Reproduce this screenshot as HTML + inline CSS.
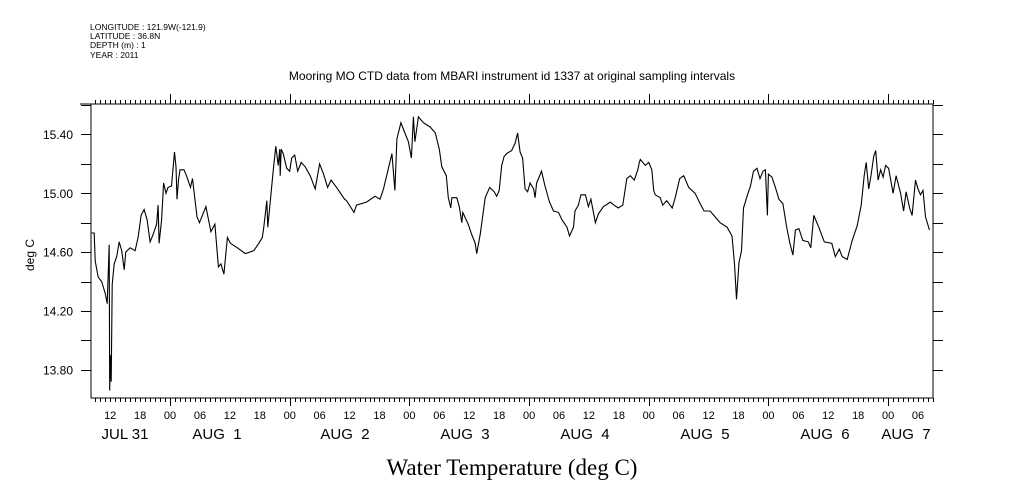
<!DOCTYPE html>
<html><head><meta charset="utf-8">
<style>
html,body{margin:0;padding:0;background:#fff;}
svg{display:block;}
text{font-family:"Liberation Sans",sans-serif;fill:#000;}
</style></head>
<body>
<svg id="chart" width="1009" height="504" viewBox="0 0 1009 504" xmlns="http://www.w3.org/2000/svg">
<rect width="1009" height="504" fill="#fff"/>
<g>
<text x="90" y="30" style="font-size:8.5px">LONGITUDE : 121.9W(-121.9)</text>
<text x="90" y="39" style="font-size:8.5px">LATITUDE : 36.8N</text>
<text x="90" y="48" style="font-size:8.5px">DEPTH (m) : 1</text>
<text x="90" y="58" style="font-size:8.5px">YEAR : 2011</text>
</g>
<text x="512" y="80" text-anchor="middle" style="font-size:12px">Mooring MO CTD data from MBARI instrument id 1337 at original sampling intervals</text>
<text x="512" y="475" text-anchor="middle" style="font-family:'Liberation Serif',serif;font-size:23px">Water Temperature (deg C)</text>
<text x="0" y="0" text-anchor="middle" transform="translate(34,255) rotate(-90)" style="font-size:12px">deg C</text>
<g id="axes"></g>
<g id="series"></g>
</svg>
<script>
// hours relative to AUG 1 00:00
const times = [-15.7,-15.2,-15,-14.4,-13.7,-13,-12.6,-12.2,-12.1,-11.95,-11.8,-11.6,-11.2,-10.7,-10.2,-9.7,-9.2,-8.9,-8,-7,-6.4,-5.8,-5.2,-4.6,-4,-3.4,-2.7,-2.4,-2.2,-1.7,-1.3,-0.8,-0.4,0.3,0.9,1.2,1.4,1.7,2,2.8,3.3,4.1,4.5,5.4,5.9,7.2,8.2,9,9.7,10.2,10.8,11.5,12.1,13.5,15.1,16.8,17.8,18.5,18.8,19.4,19.6,20.7,21.2,21.7,22,22.1,22.3,22.7,23.4,24,24.4,25,25.6,26.3,27.1,28.1,29.1,30,30.8,31.6,32.3,33.6,35,35.4,36.9,37.4,39.4,41.1,42.1,42.8,43.5,44.5,45.1,45.5,46.3,47.1,47.8,48.4,48.8,49.1,49.8,50.8,52.2,53.2,54,54.5,55.4,55.8,56.3,56.5,57.5,58,58.5,58.7,59.8,60.5,61.2,61.5,62.2,63.2,64.1,65,65.5,66,66.5,67,67.5,68.5,69.2,69.7,70.2,70.7,71.2,71.7,72.2,72.9,73.2,73.5,74,74.5,75.2,76.1,76.9,77.9,78.6,79.6,80.1,80.9,81.2,81.9,82.4,83.3,83.9,84.4,85.3,85.9,86.9,88.3,89,89.9,90.8,91.6,92.3,93.1,93.8,94.1,94.3,95.3,96,96.6,97,97.3,98.3,98.8,99.6,100.7,101.3,102.2,103,104,105.3,106.3,107.1,108.3,109.3,110.3,111.7,112.7,113.2,113.6,114.1,114.6,115,115.8,116.4,117,117.7,118.3,118.9,119.4,119.8,120,120.7,121.4,122.1,122.9,123.6,124.3,124.9,125.4,126.1,126.9,128,128.5,129.1,130.1,131.2,132.7,133.4,134.2,134.8,135.8,136.8,137.8,138.6,139.2,139.6,140.1,140.6,141.1,141.5,142,142.5,143,143.5,144.1,145,145.6,146.5,147.1,147.6,148.3,148.8,149.5,150,150.5,151,151.5,152.3];
const temps = [14.73,14.73,14.54,14.43,14.40,14.32,14.25,14.65,13.66,13.90,13.72,14.38,14.52,14.57,14.67,14.61,14.48,14.60,14.63,14.61,14.70,14.85,14.89,14.82,14.67,14.72,14.79,14.92,14.66,14.82,15.07,15.00,15.04,15.05,15.28,15.18,14.96,15.09,15.16,15.16,15.12,15.04,15.10,14.84,14.80,14.91,14.74,14.79,14.50,14.52,14.45,14.70,14.66,14.63,14.59,14.61,14.66,14.70,14.77,14.95,14.77,15.16,15.32,15.19,15.30,15.12,15.30,15.27,15.17,15.15,15.24,15.26,15.15,15.21,15.18,15.12,15.03,15.20,15.13,15.04,15.09,15.03,14.96,14.95,14.87,14.92,14.94,14.98,14.96,15.03,15.13,15.27,15.02,15.37,15.48,15.41,15.35,15.24,15.52,15.35,15.52,15.48,15.45,15.41,15.30,15.18,15.12,14.97,14.90,14.97,14.97,14.91,14.80,14.87,14.79,14.72,14.66,14.59,14.72,14.97,15.04,15.01,14.98,15.02,15.19,15.25,15.27,15.29,15.34,15.41,15.28,15.24,15.03,15.01,15.07,15.03,14.97,15.07,15.11,15.15,15.05,14.94,14.88,14.87,14.82,14.77,14.71,14.77,14.88,14.92,14.99,14.99,14.91,14.96,14.80,14.86,14.91,14.94,14.92,14.90,14.92,15.10,15.12,15.09,15.16,15.21,15.23,15.19,15.21,15.16,15.02,14.99,14.97,14.92,14.95,14.90,14.97,15.10,15.12,15.04,15.00,14.93,14.88,14.88,14.84,14.80,14.77,14.71,14.52,14.28,14.53,14.61,14.90,14.99,15.05,15.15,15.17,15.10,15.15,15.16,14.85,15.13,15.11,15.04,14.96,14.93,14.78,14.66,14.58,14.75,14.76,14.68,14.67,14.63,14.85,14.77,14.67,14.66,14.57,14.62,14.57,14.55,14.68,14.78,14.92,15.12,15.21,15.03,15.13,15.25,15.29,15.09,15.16,15.11,15.19,15.17,15.00,15.12,15.00,14.88,15.01,14.90,14.85,15.09,15.03,14.99,15.02,14.84,14.75];
const yTickValues = [13.8,14.2,14.6,15.0,15.4];
const yTickLabels = ["13.80","14.20","14.60","15.00","15.40"];
const hourLabels = ["12","18","00","06"];
const dateLabels = ["JUL 31","AUG  1","AUG  2","AUG  3","AUG  4","AUG  5","AUG  6","AUG  7"];

const X0=91,X1=933,Y0=104,Y1=398;
const T0=-15.85, T1=153;
const V0=13.609, V1=15.607;
function xs(t){return X0+(t-T0)/(T1-T0)*(X1-X0);}
function ys(v){return Y1-(v-V0)/(V1-V0)*(Y1-Y0);}
const NS="http://www.w3.org/2000/svg";
const axes=document.getElementById('axes');
const series=document.getElementById('series');
function mk(tag,attrs,parent){const e=document.createElementNS(NS,tag);for(const k in attrs)e.setAttribute(k,attrs[k]);parent.appendChild(e);return e;}

const frame=mk('path',{d:`M80 ${Y0}H${X1}V${Y1}H${X0}V${Y0}`,fill:'none',stroke:'#000','stroke-width':1.3,'shape-rendering':'crispEdges'},axes);



let td='';
for(let h=Math.ceil(T0);h<=Math.floor(T1);h++){
  const x=Math.round(xs(h))+0.5;
  const major=((h%24)+24)%24===0;
  td+=`M${x} ${Y0}V${Y0-(major?10:4)}M${x} ${Y1}V${Y1+(major?8:4)}`;
}
for(let i=0;i<=9;i++){
  const v=13.8+i*0.2; if(v>V1) break;
  const y=Math.round(ys(v))+0.5;
  td+=`M${X0} ${y}H81M${X1} ${y}H943`;
}
const ticks=mk('path',{d:td,fill:'none',stroke:'#000','stroke-width':1,'shape-rendering':'crispEdges'},axes);



yTickValues.forEach((v,i)=>{
  const t=mk('text',{x:73,y:ys(v)+4.5,'text-anchor':'end',style:'font-size:12px'},axes);
  t.textContent=yTickLabels[i];
  
  
});
for(let h=-12,i=0;h<=T1;h+=6,i++){
  const t=mk('text',{x:xs(h),y:419,'text-anchor':'middle',style:'font-size:11px'},axes);
  t.textContent=hourLabels[i%4];
  
  
}
const dateX=[125,217,345,465,585,705,825,906];
dateLabels.forEach((s,i)=>{
  const t=mk('text',{x:dateX[i],y:439,'text-anchor':'middle',style:'font-size:15px;white-space:pre'},axes);
  t.textContent=s;
  t.setAttribute('xml:space','preserve');
  
  
});

let d='';
times.forEach((t,i)=>{d+=(i?'L':'M')+xs(t).toFixed(1)+' '+ys(temps[i]).toFixed(1);});
const line=mk('path',{d:d,fill:'none',stroke:'#000','stroke-width':1.1,'stroke-linejoin':'miter'},series);


</script>
</body></html>
